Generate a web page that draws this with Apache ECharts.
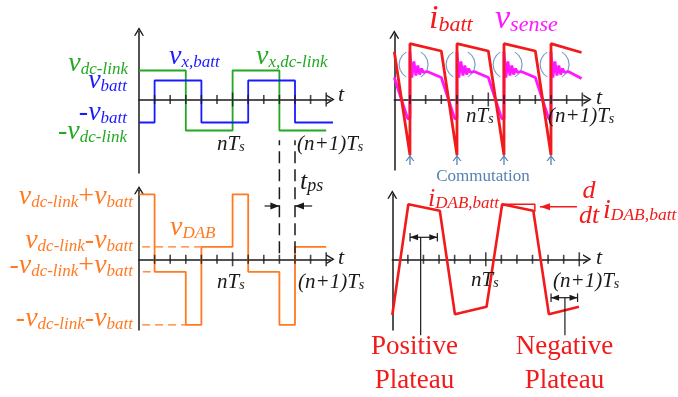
<!DOCTYPE html>
<html><head><meta charset="utf-8">
<script src="https://cdn.jsdelivr.net/npm/echarts@6/dist/echarts.min.js"></script>
<style>html,body{margin:0;padding:0;background:#fff}#c{width:678px;height:397px}</style>
</head><body><div id="c"></div>
<script>
// ---------------- data (time in tick units, levels in arbitrary units) ----------------
const ticks = [1,2,3,4,5,6,7,8,9,10,11,12];
const majorTicks = [6,12];
const tickLabelN = '{m|nT}{s|s}';
const tickLabelN1 = '{m|(n+1)T}{s|s}';

// top-left: bridge voltages (step held until next point)
const vxDcLink = [[0,29],[3,-31],[6,29],[9,-31],[12,-31]];
const vxBatt   = [[0,-23],[1,19],[4,-23],[7,19],[10,-23],[12.9,-23]];

// bottom-left: DAB voltage (step)
const vDAB = [[0,65],[1,-12.5],[3,-65.5],[4,12.5],[6,65],[7,-12.5],[9,-65.5],[10,12.5],[12,12.5]];
const refDcMinusBatt    = [[0.2,12.5],[3.95,12.5]];
const refNegDcPlusBatt  = [[0.25,-12.5],[0.75,-12.5]];
const refNegDcMinusBatt = [[0.2,-65.5],[3,-65.5]];
const phaseShiftEdges = [9, 10];
const phaseShiftSpan = [6, 119];
const tpsArrowY = 53.3;
const tpsArrowTails = [8.05, 11.1];

// top-right: battery current and sense voltage
const iBatt = [[0,47.8],[1,-55.5],[1,55.8],[3,48.5],[4,-55.5],[4,55.8],[6,48.5],[7,-55.5],[7,55.8],[9,48.5],[10,-55.5],[10,55.8],[11.95,47]];
const vSense = [[0,22],[0.85,-19],[1,-19],[1,48],[1.12,22],[1.25,38],[1.38,24],[1.5,34],[1.62,25],[1.74,31],[1.86,27],[2.1,28],[3,22],
  [3.85,-19],[4,-19],[4,48],[4.12,22],[4.25,38],[4.38,24],[4.5,34],[4.62,25],[4.74,31],[4.86,27],[5.1,28],[6,22],
  [6.85,-19],[7,-19],[7,48],[7.12,22],[7.25,38],[7.38,24],[7.5,34],[7.62,25],[7.74,31],[7.86,27],[8.1,28],[9,22],
  [9.85,-19],[10,-19],[10,48],[10.12,22],[10.25,38],[10.38,24],[10.5,34],[10.62,25],[10.74,31],[10.86,27],[11.1,28],[11.95,21]];
const ringCircles = [[1.23,35],[4.23,35],[7.23,35],[10.23,35]];
const commutations = [1,4,7,10];
const commutationArrow = [-65.5,-55.5];

// bottom-right: DAB battery-side current
const iDAB = [[0,-55.7],[1.03,55],[3.05,48.6],[4.02,-55],[6.05,-47.4],[7.05,55],[9.05,48.6],[10.05,-55],[11.98,-47.4]];
const tangentBox = [[7.05,55],[9.15,55],[9.15,47.5]];
const derivArrow = [[11.85,52.6],[9.48,52.6]];
const posPlateau = {x1:1.14, x2:2.89, y:22, stemX:1.82, stemEnd:-76};
const negPlateau = {x1:10.19, x2:11.89, y:-38.4, stemX:11.08, stemEnd:-76};

// ---------------- styling ----------------
const GREEN='#22a822', BLUE='#1a1aff', ORANGE='#ff7a22', RED='#f21a1a', MAG='#ff18ff', STEEL='#5582b4', BLACK='#1a1a1a';
const SERIF = "'Liberation Serif','Times New Roman',serif";
const CHEV = 'path://M0,10 L6,0 L12,10 L10.2,10 L6,3.2 L1.8,10 Z';
const ARCS = 'path://M5,18.66 L2.34,16.43 L0.6,13.42 L0,10 L0.6,6.58 L2.34,3.57 L5,1.34 M15,18.66 L17.66,16.43 L19.4,13.42 L20,10 L19.4,6.58 L17.66,3.57 L15,1.34';

// panel geometry (pixels) : left, top, width, height, x-max, y-min, y-max
const panels = [
  {left:139,   top:31.5,  width:191.5, height:141.5, xmax:12.276, ymin:-73.5, ymax:68},
  {left:394.3, top:34.5,  width:193.2, height:135.5, xmax:12.33,  ymin:-70.5, ymax:65},
  {left:139,   top:190.2, width:191.5, height:139.8, xmax:12.276, ymin:-70.7, ymax:69.1},
  {left:392.3, top:194.5, width:194.9, height:135.5, xmax:12.51,  ymin:-70.7, ymax:64.8}
];

const axisLine = {onZero:true, symbol:['none', CHEV], symbolSize:[10,9], lineStyle:{color:BLACK, width:1.5}};
const grid = panels.map(p => ({left:p.left, top:p.top, width:p.width, height:p.height, containLabel:false}));
const xAxis = panels.map((p,i) => ({gridIndex:i, type:'value', min:0, max:p.xmax, axisLine, axisTick:{show:false}, axisLabel:{show:false}, splitLine:{show:false}}));
const yAxis = panels.map((p,i) => ({gridIndex:i, type:'value', min:p.ymin, max:p.ymax, axisLine, axisTick:{show:false}, axisLabel:{show:false}, splitLine:{show:false}}));

function ln(g, data, color, width, extra) {
  return Object.assign({type:'line', xAxisIndex:g, yAxisIndex:g, data, symbol:'none', showSymbol:false,
    lineStyle:{color, width}, itemStyle:{color}, clip:false, silent:true, animation:false, z:3}, extra||{});
}
function arrowSeg(g, from, to, color, width, sym, rot, size, off) {
  return ln(g, [{value:from, symbol:'none'}, {value:to, symbol:sym, symbolRotate:rot, symbolSize:size, symbolOffset:off}],
    color, width, {showSymbol:true, showAllSymbol:true, symbol:'none'});
}

const series = [];
// ticks
for (let g = 0; g < 4; g++) {
  series.push({type:'scatter', xAxisIndex:g, yAxisIndex:g, silent:true, animation:false, z:4,
    symbol:'rect', symbolSize:[1.6,9], itemStyle:{color:BLACK},
    data: ticks.filter(t => majorTicks.indexOf(t) < 0).map(t => [t,0])});
  series.push({type:'scatter', xAxisIndex:g, yAxisIndex:g, silent:true, animation:false, z:4,
    symbol:'rect', symbolSize:[1.6,14], itemStyle:{color:BLACK},
    data: majorTicks.map(t => [t,0])});
}
// top-left
series.push(ln(0, vxDcLink, GREEN, 1.8, {step:'end'}));
series.push(ln(0, vxBatt, BLUE, 1.8, {step:'end'}));
// bottom-left
series.push(ln(2, vDAB, ORANGE, 1.8, {step:'end'}));
[refDcMinusBatt, refNegDcPlusBatt, refNegDcMinusBatt].forEach(d =>
  series.push(ln(2, d, ORANGE, 1.3, {lineStyle:{color:ORANGE, width:1.3, type:[8,5]}})));
phaseShiftEdges.forEach(x =>
  series.push(ln(2, [[x, phaseShiftSpan[0]],[x, phaseShiftSpan[1]]], BLACK, 1.5, {lineStyle:{color:BLACK, width:1.5, type:[12,6]}})));
series.push(arrowSeg(2, [tpsArrowTails[0], tpsArrowY], [phaseShiftEdges[0], tpsArrowY], BLACK, 1.2, 'triangle', -90, [7,9], [-4.5,0]));
series.push(arrowSeg(2, [tpsArrowTails[1], tpsArrowY], [phaseShiftEdges[1], tpsArrowY], BLACK, 1.2, 'triangle', 90, [7,9], [4.5,0]));
// top-right
series.push({type:'scatter', xAxisIndex:1, yAxisIndex:1, silent:true, animation:false, z:2,
  symbol:ARCS, symbolSize:[29,25], itemStyle:{color:'rgba(0,0,0,0)', borderColor:STEEL, borderWidth:1.1}, data:ringCircles});
series.push(ln(1, vSense, MAG, 2.8));
series.push(ln(1, iBatt, RED, 2.8));
commutations.forEach(x =>
  series.push(arrowSeg(1, [x, commutationArrow[0]], [x, commutationArrow[1]], STEEL, 1.3, CHEV, 0, [9,6], [0,3])));
// bottom-right
series.push(ln(3, iDAB, RED, 2.6));
series.push(ln(3, tangentBox, RED, 1.5));
series.push(arrowSeg(3, derivArrow[0], derivArrow[1], RED, 1.5, 'triangle', 90, [7,10], [5,0]));
[posPlateau, negPlateau].forEach(p => {
  series.push(ln(3, [[p.x1, p.y+4.3],[p.x1, p.y-4.3]], BLACK, 1.2));
  series.push(ln(3, [[p.x2, p.y+4.3],[p.x2, p.y-4.3]], BLACK, 1.2));
  series.push(ln(3, [{value:[p.x1,p.y], symbol:'triangle', symbolRotate:90, symbolSize:[6,8], symbolOffset:[4,0]},
                     {value:[p.x2,p.y], symbol:'triangle', symbolRotate:-90, symbolSize:[6,8], symbolOffset:[-4,0]}],
    BLACK, 1.2, {showSymbol:true, showAllSymbol:true, symbol:'none'}));
  series.push(ln(3, [[p.stemX, p.y],[p.stemX, p.stemEnd]], BLACK, 1.2));
});

// ---------------- text ----------------
function rich(color, M, S) {
  const P = 0.8*(M-S) + 0.22*M;
  return {
    m:{fontFamily:SERIF, fontStyle:'italic', fontSize:M, lineHeight:M, fill:color, verticalAlign:'top'},
    u:{fontFamily:SERIF, fontStyle:'normal', fontSize:M, lineHeight:M, fill:color, verticalAlign:'top'},
    s:{fontFamily:SERIF, fontStyle:'italic', fontSize:S, lineHeight:S, fill:color, verticalAlign:'bottom', padding:[P,0,0,0]}
  };
}
function L(align, x, base, text, color, M, S) {
  return {type:'text', x, y: base - 0.73*M, z:10, silent:true,
    style:{text, rich:rich(color, M, S||Math.round(M*0.62)), align, verticalAlign:'top'}};
}
const texts = [
  // top-left
  L('right',128,70,'{m|v}{s|dc-link}',GREEN,28,17),
  L('right',127,87,'{m|v}{s|batt}',BLUE,28,17),
  L('right',127,119,'{u|-}{m|v}{s|batt}',BLUE,28,17),
  L('right',127,138,'{u|-}{m|v}{s|dc-link}',GREEN,28,17),
  L('left',169,63,'{m|v}{s|x,batt}',BLUE,28,17),
  L('left',256,63,'{m|v}{s|x,dc-link}',GREEN,28,17),
  L('left',338,100,'{m|t}',BLACK,22),
  L('left',217,149,tickLabelN,BLACK,21,14),
  L('left',297,149,tickLabelN1,BLACK,21,14),
  // top-right
  L('left',429,27,'{m|i}{s|batt}',RED,34,22),
  L('left',495,27,'{m|v}{s|sense}',MAG,34,22),
  L('left',596,103,'{m|t}',BLACK,22),
  L('left',466,121,tickLabelN,BLACK,21,14),
  L('left',548,121,tickLabelN1,BLACK,21,14),
  L('center',483,180,'{u|Commutation}',STEEL,17),
  // bottom-left
  L('right',133,203,'{m|v}{s|dc-link}{u|+}{m|v}{s|batt}',ORANGE,28,17),
  L('right',133,247,'{m|v}{s|dc-link}{u|-}{m|v}{s|batt}',ORANGE,28,17),
  L('right',133,272,'{u|-}{m|v}{s|dc-link}{u|+}{m|v}{s|batt}',ORANGE,28,17),
  L('right',133,325,'{u|-}{m|v}{s|dc-link}{u|-}{m|v}{s|batt}',ORANGE,28,17),
  L('left',170,234,'{m|v}{s|DAB}',ORANGE,28,17),
  L('left',338,263,'{m|t}',BLACK,22),
  L('left',217,287,tickLabelN,BLACK,21,14),
  L('left',298,287,tickLabelN1,BLACK,21,14),
  L('left',300,188,'{m|t}{s|ps}',BLACK,26,18),
  // bottom-right
  L('left',428,205,'{m|i}{s|DAB,batt}',RED,26,17),
  L('center',589,197,'{m|d}',RED,26),
  L('center',589,222,'{m|dt}',RED,26),
  L('left',603,217,'{m|i}{s|DAB,batt}',RED,28,17.5),
  L('left',596,263,'{m|t}',BLACK,22),
  L('left',471,285,tickLabelN,BLACK,21,14),
  L('left',553,286,tickLabelN1,BLACK,21,14),
  L('center',414.5,353,'{u|Positive}',RED,27),
  L('center',414.5,387,'{u|Plateau}',RED,27),
  L('center',564.5,353,'{u|Negative}',RED,27),
  L('center',564.5,387,'{u|Plateau}',RED,27)
];

const chart = echarts.init(document.getElementById('c'), null, {renderer:'canvas'});
chart.setOption({animation:false, backgroundColor:'#fff', grid, xAxis, yAxis, series, graphic:{elements:texts}});
</script></body></html>
